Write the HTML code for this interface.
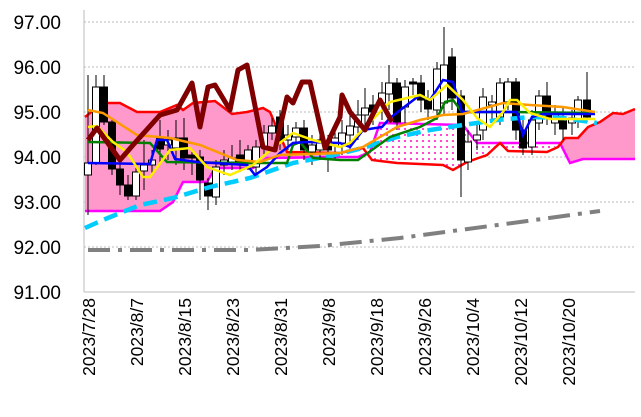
<!DOCTYPE html>
<html><head><style>body{margin:0;background:#fff}svg{display:block}</style></head><body>
<svg width="641" height="417" xmlns="http://www.w3.org/2000/svg" font-family="Liberation Sans, sans-serif">
<defs><pattern id="dots" width="6" height="6" patternUnits="userSpaceOnUse"><rect width="6" height="6" fill="#fff"/><circle cx="3" cy="3" r="1.1" fill="#ff33cc"/></pattern></defs>
<g stroke="#bbb" stroke-dasharray="2,2" stroke-width="1">
<line x1="84" y1="22" x2="635" y2="22"/><line x1="84" y1="67" x2="635" y2="67"/><line x1="84" y1="112" x2="635" y2="112"/><line x1="84" y1="157" x2="635" y2="157"/><line x1="84" y1="202" x2="635" y2="202"/><line x1="84" y1="247" x2="635" y2="247"/></g>
<line x1="84" y1="10" x2="84" y2="292" stroke="#bbb"/>
<line x1="84" y1="292" x2="635" y2="292" stroke="#bbb"/>
<g font-size="19" text-anchor="end" fill="#000">
<text x="61" y="29">97.00</text><text x="61" y="74">96.00</text><text x="61" y="119">95.00</text><text x="61" y="164">94.00</text><text x="61" y="209">93.00</text><text x="61" y="254">92.00</text><text x="61" y="299">91.00</text></g>
<g font-size="17.5" text-anchor="end" fill="#000">
<text transform="translate(95,298) rotate(-90)">2023/7/28</text>
<text transform="translate(143,298) rotate(-90)">2023/8/7</text>
<text transform="translate(191,298) rotate(-90)">2023/8/15</text>
<text transform="translate(239,298) rotate(-90)">2023/8/23</text>
<text transform="translate(287,298) rotate(-90)">2023/8/31</text>
<text transform="translate(335,298) rotate(-90)">2023/9/8</text>
<text transform="translate(383,298) rotate(-90)">2023/9/18</text>
<text transform="translate(431,298) rotate(-90)">2023/9/26</text>
<text transform="translate(479,298) rotate(-90)">2023/10/4</text>
<text transform="translate(527,298) rotate(-90)">2023/10/12</text>
<text transform="translate(575,298) rotate(-90)">2023/10/20</text></g>
<polygon fill="#ff99cc" points="85,117 103,103 120,103 137,112 160,112 177,105 183,110 193,103 215,101 232,114 247,112 263,108 270,112 287,152 340,153 340,157 267,158 253,168 215,168 207,182 183,182 173,202 160,211 85,211"/>
<polygon fill="url(#dots)" points="370,152 380,123 463,125 477,143 560,143 547,152 508,151 500,143 487,155 467,162 453,170 443,165 397,163 372,160"/>
<polygon fill="#ff99cc" points="560,143 565,138 578,138 588,127 600,122 613,113 623,114 635,109 635,159 583,159 570,163"/>
<polyline fill="none" stroke="#ff00ff" stroke-width="2.5" points="85,211 160,211 173,202 183,182 207,182 215,168 253,168 267,158 340,157 358,157 370,152 380,123 463,125 477,143 560,143 570,163 583,159 635,159"/>
<polyline fill="none" stroke="#ff0000" stroke-width="2.5" points="85,117 103,103 120,103 137,112 160,112 177,105 183,110 193,103 215,101 232,114 247,112 263,108 270,112 287,152 340,153 363,148 372,160 397,163 443,165 453,170 467,162 487,155 500,143 508,151 547,152 558,147 565,138 578,138 588,127 600,122 613,113 623,114 635,109"/>
<polyline fill="none" stroke="#808080" stroke-width="4" stroke-dasharray="22,8,4,8" points="88,250 250,250 320,246 400,238 460,230 520,222 600,211"/>
<g id="c" stroke="#000" stroke-width="1"></g>
<polyline fill="none" stroke="#00ccff" stroke-width="4.5" stroke-dasharray="14,7" points="85,228 103,220 140,205 173,198 210,187 250,178 293,163 330,156 363,148 397,137 430,130 463,125 497,120 530,117 563,118 597,123"/>
<polyline fill="none" stroke="#008000" stroke-width="2.5" points="88,142 150,143 167,162 240,163 287,163 293,145 300,142 313,158 340,160 358,160 390,137 420,127 437,118 445,102 453,100 462,112 510,112 595,113"/>
<polyline fill="none" stroke="#0000ff" stroke-width="2.5" points="88,163 150,164 157,140 167,140 175,159 197,162 247,165 255,175 267,167 280,153 293,143 307,142 340,143 350,147 363,130 382,127 390,118 403,108 420,95 430,100 443,80 453,82 462,112 517,112 523,135 532,117 543,114 595,114"/>
<polyline fill="none" stroke="#ff9900" stroke-width="2.5" points="88,110 103,113 137,135 170,138 200,145 237,160 260,162 280,155 340,153 363,147 397,127 420,120 443,115 463,114 503,103 530,105 563,107 595,112"/>
<polyline fill="none" stroke="#ffee00" stroke-width="2.5" points="88,127 97,126 113,142 127,152 143,177 150,177 170,150 190,148 207,167 230,175 253,165 273,148 293,133 313,140 340,147 350,143 370,122 390,102 420,95 430,100 447,85 463,100 477,118 490,127 503,112 510,100 517,100 530,113 550,119 595,119"/>
<polyline fill="none" stroke="#800000" stroke-width="5" stroke-linejoin="round" points="88,140 97,128 120,160 133,145 160,115 177,110 192,83 200,127 208,87 215,85 230,110 238,70 247,65 263,147 275,150 287,97 293,103 302,82 310,82 325,148 340,117 342,95 350,112 365,130 380,100 392,122"/>
</svg>
<script>
var d=[[88,163,175,75,215,0],[96,87,163,75,165,0],[104,87,122,75,125,1],[112,122,169,118,175,1],[120,169,185,160,195,1],[128,185,196,175,200,1],[136,172,196,165,200,0],[144,165,171,140,190,0],[152,160,165,150,175,0],[160,138,149,120,165,1],[168,140,145,130,160,0],[176,138,148,120,165,0],[184,138,158,118,170,1],[192,155,158,150,175,1],[200,157,180,150,200,1],[208,183,196,178,210,1],[216,167,197,160,205,0],[224,160,165,150,175,0],[232,158,162,145,170,0],[240,155,162,140,172,1],[248,150,162,145,170,0],[256,147,167,140,175,0],[264,133,147,125,155,0],[272,126,133,118,140,0],[280,117,140,110,150,1],[288,135,140,125,150,0],[296,128,137,122,145,0],[304,128,150,120,160,1],[312,145,152,135,165,0],[320,140,150,130,160,0],[328,142,150,135,172,1],[335,138,146,128,160,0],[342,133,143,120,155,0],[350,126,135,115,150,0],[358,115,127,100,140,0],[365,108,115,88,130,0],[373,105,112,95,125,1],[382,93,103,82,120,0],[389,83,94,65,110,0],[397,83,122,78,130,1],[405,87,107,80,125,0],[413,82,84,78,95,1],[421,83,100,75,112,1],[428,100,109,90,120,1],[437,69,110,62,120,0],[444,65,103,27,115,0],[452,57,98,48,110,1],[461,96,160,90,197,1],[468,142,162,130,170,0],[477,135,140,125,150,0],[483,97,130,88,140,0],[492,102,105,95,120,0],[500,83,117,78,125,0],[508,82,102,78,110,0],[516,82,130,78,140,1],[523,130,148,120,155,1],[532,120,147,110,155,0],[539,96,123,90,130,0],[547,96,117,82,125,1],[555,113,123,105,135,0],[563,120,129,108,140,1],[572,118,123,110,135,0],[578,100,120,96,128,0],[587,100,117,72,122,1]];
var g=document.getElementById('c'),h='';
d.forEach(function(a){h+='<line x1="'+a[0]+'" x2="'+a[0]+'" y1="'+a[3]+'" y2="'+a[4]+'"/><rect x="'+(a[0]-3.5)+'" y="'+a[1]+'" width="7" height="'+Math.max(1,a[2]-a[1])+'" fill="'+(a[5]?'#000':'#fff')+'"/>';});
g.innerHTML=h;
</script>
</body></html>
